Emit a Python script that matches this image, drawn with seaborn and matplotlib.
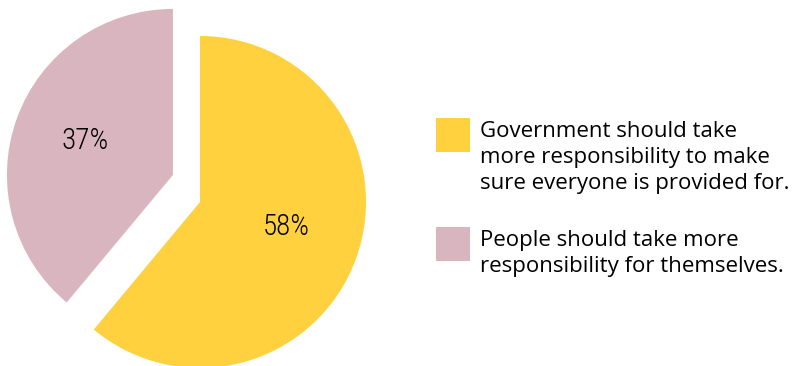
import numpy as np
import matplotlib.pyplot as plt
import seaborn as sns
from matplotlib.patches import Rectangle

# --------------------------------------------------------------
# Data
# --------------------------------------------------------------
labels = [
    "Government should take\nmore responsibility to make\nsure everyone is provided for.",
    "People should take more\nresponsibility for themselves.",
]
shares = [58, 37]
share_labels = ["58%", "37%"]
colors = ["#FFD13F", "#D9B5BF"]

sns.set_theme(style="white")
plt.rcParams["font.family"] = ["Open Sans", "DejaVu Sans"]

W, H = 804, 366
fig = plt.figure(figsize=(W / 100, H / 100), dpi=100)

# pie area: left half of the figure, radius 1 = 166 px
ax = fig.add_axes([0, 0, 400 / W, 1])
wedges, texts = ax.pie(
    shares,
    labels=share_labels,
    colors=colors,
    startangle=90,
    counterclock=False,
    labeldistance=0.55,
    wedgeprops=dict(linewidth=0),
    textprops=dict(fontsize=21, family=["Roboto Condensed", "Roboto", "DejaVu Sans"],
                   fontstretch="condensed", fontweight="light", color="black"),
)
for t in texts:
    t.set_ha("center")
    t.set_va("center")

# nudge the yellow label up a little
x, y = texts[0].get_position()
texts[0].set_position((x, y + 0.035))

# pull the pink slice out to the upper left
shift = np.array([-0.163, 0.163])
wedges[1].set_center(tuple(shift))
x, y = texts[1].get_position()
texts[1].set_position((x + shift[0] - 0.01, y + shift[1] + 0.02))

ax.set_xlim(-200 / 166, 200 / 166)
ax.set_ylim(-164 / 166, 202 / 166)
ax.set_aspect("auto")
ax.axis("off")

# legend drawn as boxes + text
box_tops = [118, 227]
for top, col, lab in zip(box_tops, colors, labels):
    fig.patches.append(
        Rectangle((436 / W, 1 - (top + 34) / H), 34 / W, 34 / H,
                  transform=fig.transFigure, color=col, linewidth=0)
    )
    fig.text(480 / W, 1 - (top + 3) / H, lab, fontsize=16, va="top",
             ha="left", linespacing=1.32, color="black")

fig.savefig("out.png", dpi=100)
